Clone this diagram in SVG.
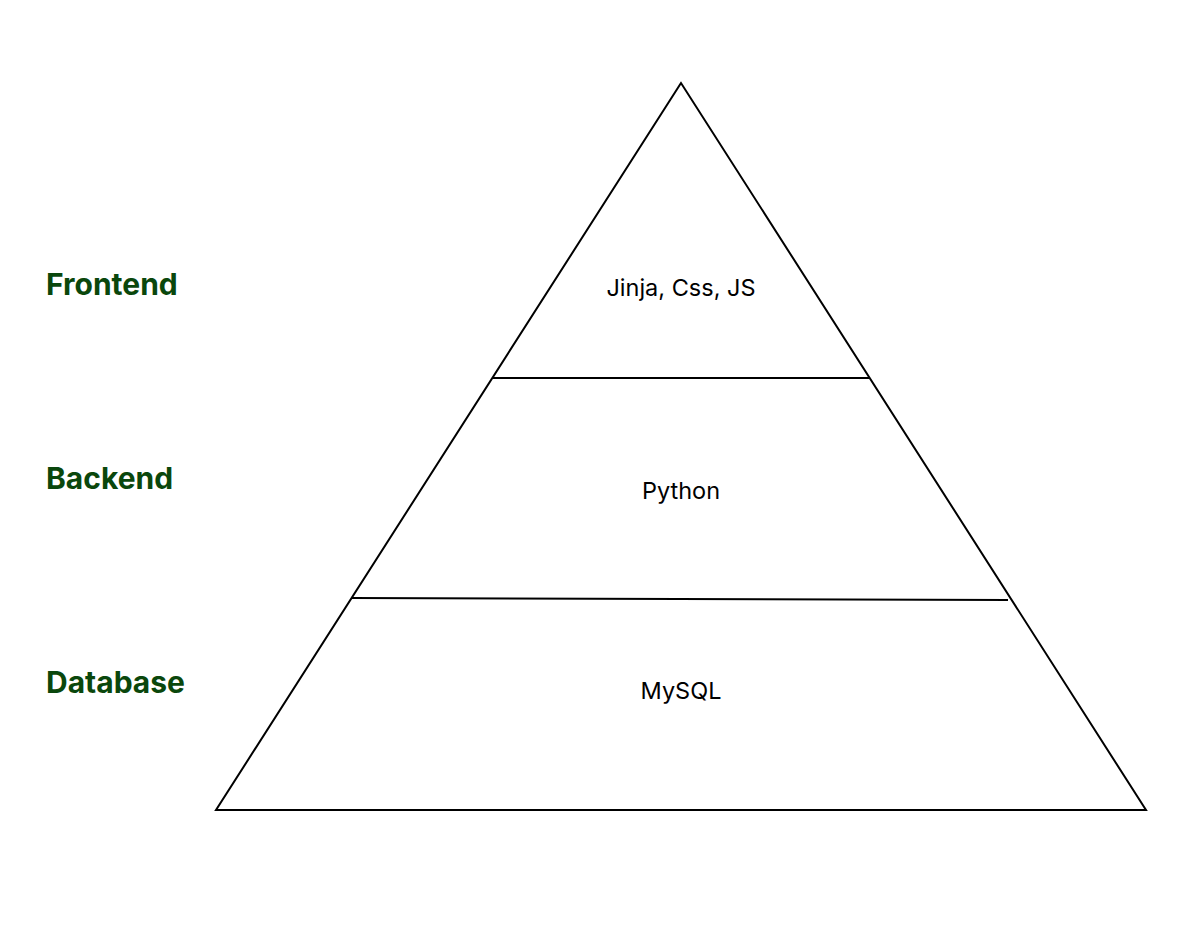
<svg xmlns="http://www.w3.org/2000/svg" width="1178" height="934" viewBox="0 0 1178 934">
<style>
.edge{fill:none;stroke:#000;stroke-width:2;}
.lbl{font-family:Inter,"Noto Sans",sans-serif;font-weight:700;font-size:30px;fill:#0a470c;}
.txt{font-family:Inter,"Noto Sans",sans-serif;font-size:23.5px;fill:#000;text-anchor:middle;}
</style>
<rect width="1178" height="934" fill="#fff"/>
<g id="pyramid">
<polygon class="edge" points="681,83 216,810 1146,810"/>
</g>
<g id="connectors">
<line class="edge" x1="493" y1="378" x2="869" y2="378"/>
<line class="edge" x1="351" y1="598" x2="1008" y2="600"/>
</g>
<g id="frontend">
<text class="lbl" x="46" y="295">Frontend</text>
<text class="txt" x="681" y="296">Jinja, Css, JS</text>
</g>
<g id="backend">
<text class="lbl" x="46" y="489">Backend</text>
<text class="txt" x="681" y="499">Python</text>
</g>
<g id="database">
<text class="lbl" x="46" y="693">Database</text>
<text class="txt" x="681" y="699">MySQL</text>
</g>
</svg>
